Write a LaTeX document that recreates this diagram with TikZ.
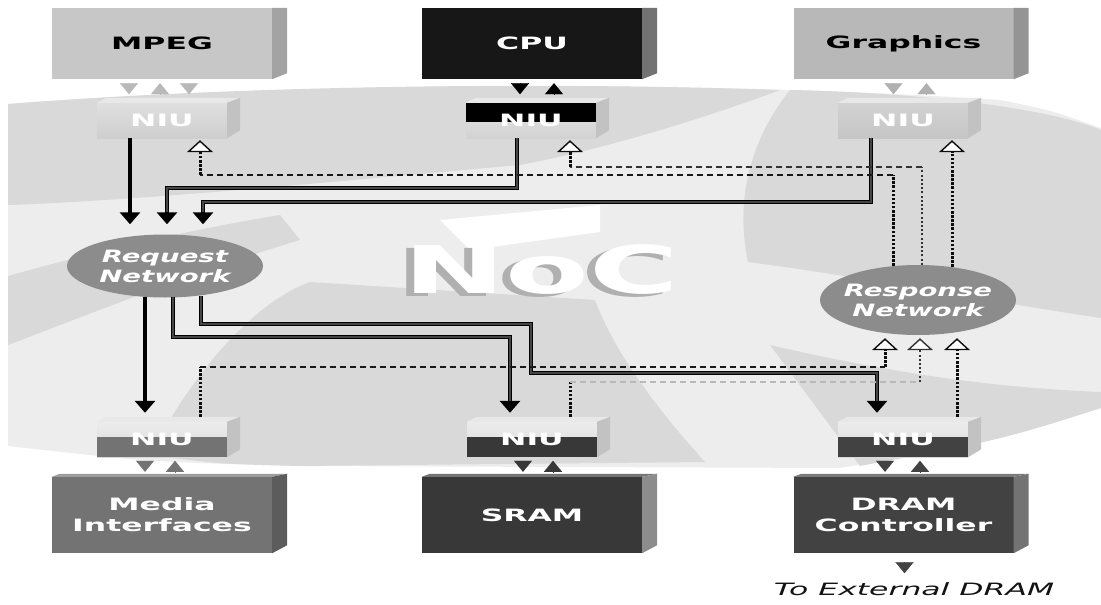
\documentclass[tikz,border=0pt]{standalone}
\usepackage{fontspec}
\newfontfamily\wfont[FakeStretch=1.85]{DejaVu Sans}
\newfontfamily\nfont[FakeStretch=1.62]{DejaVu Sans}
\usetikzlibrary{arrows.meta,calc,shapes.geometric}
\definecolor{bgA}{gray}{0.93}
\definecolor{bgB}{gray}{0.85}
\definecolor{mpegc}{gray}{0.78}
\definecolor{mpegs}{gray}{0.64}
\definecolor{cpuc}{gray}{0.09}
\definecolor{cpus}{gray}{0.45}
\definecolor{grc}{gray}{0.72}
\definecolor{grs}{gray}{0.58}
\definecolor{medc}{gray}{0.45}
\definecolor{meds}{gray}{0.36}
\definecolor{sramc}{gray}{0.22}
\definecolor{srams}{gray}{0.55}
\definecolor{dramc}{gray}{0.26}
\definecolor{drams}{gray}{0.45}
\definecolor{netc}{gray}{0.55}
\begin{document}
\begin{tikzpicture}[x=1pt,y=-1pt,
  box/.style={rectangle, minimum width=220pt, inner sep=0pt, align=center,
    font=\wfont\bfseries\fontsize{17}{21}\selectfont},
  niu/.style={rectangle, minimum width=130pt, minimum height=35pt, inner sep=0pt,
    text=white, font=\wfont\bfseries\fontsize{17}{21}\selectfont},
  net/.style={ellipse, minimum width=196pt, inner xsep=-30pt, inner ysep=-8pt,
    fill=netc, text=white, align=center, font=\nfont\bfseries\itshape\fontsize{17}{20}\selectfont},
  reqA/.style={line width=4.5pt, draw=black, -{Triangle[width=20pt,length=12pt]}},
  reqB/.style={line width=4.2pt, draw=black, -{Triangle[width=20pt,length=12pt]},
    postaction={draw=gray!55!black, line width=1.8pt, -, shorten >=12pt}},
  vdot/.style={line width=3pt, draw=gray!10!black, dash pattern=on 2.5pt off 1.6pt},
  vdotl/.style={line width=2.6pt, draw=gray!40!black, dash pattern=on 2pt off 2.2pt},
  hdash/.style={line width=1.8pt, draw=gray!20!black, dash pattern=on 6pt off 4pt},
  hdashl/.style={line width=1.6pt, draw=gray!55, dash pattern=on 6pt off 4pt},
  rtip/.style={-{Triangle[width=26pt,length=12pt,fill=white,line width=1.4pt]}},
  tri/.style={line width=0.1pt, -{Triangle[width=18pt,length=11pt]}},
]
\useasboundingbox (0,0) rectangle (1101,605);
\fill[white] (0,0) rectangle (1101,605);
% background swirl
\fill[bgA] (8,104) .. controls (300,82) and (700,80) .. (1000,100)
  .. controls (1050,110) .. (1101,128) -- (1101,408)
  .. controls (1000,440) .. (840,468) -- (300,466)
  .. controls (150,462) .. (8,446) -- cycle;
\fill[bgB] (8,104) .. controls (250,85) and (550,82) .. (780,90)
  .. controls (700,120) and (600,150) .. (520,165)
  .. controls (350,180) and (150,200) .. (8,205) -- cycle;
\fill[bgB] (790,90) .. controls (900,92) and (1040,105) .. (1101,130)
  -- (1101,318) .. controls (980,300) and (850,275) .. (748,262)
  .. controls (735,200) and (750,140) .. (790,90) -- cycle;
\fill[bgB] (8,276) .. controls (100,250) and (200,228) .. (280,215)
  -- (300,240) .. controls (200,270) and (100,310) .. (8,345) -- cycle;
\fill[bgB] (150,455) .. controls (200,360) and (260,300) .. (310,282)
  -- (595,300) .. controls (610,340) and (640,390) .. (705,462)
  -- (300,466) .. controls (220,464) .. (150,455) -- cycle;
\fill[bgB] (770,345) .. controls (900,375) and (1000,388) .. (1101,392)
  -- (1101,408) .. controls (1000,440) .. (860,466) -- cycle;
\fill[white] (440,220) -- (600,205) -- (600,232) -- (470,250) -- cycle;

% NoC
\node[font=\wfont\bfseries\fontsize{66}{70}\selectfont, text=gray!62] (nocs) at (533,272) {NoC};
\node[font=\wfont\bfseries\fontsize{66}{70}\selectfont, text=white] (noc) at (541,269) {NoC};

% top boxes
\node[box, minimum height=71pt, fill=mpegc] (mpeg) at (162,43.5) {MPEG};
\node[box, minimum height=71pt, fill=cpuc, text=white] (cpu) at (532,43.5) {CPU};
\node[box, minimum height=71pt, fill=grc] (gr) at (903.5,43.5) {Graphics};
\foreach \n/\c in {mpeg/mpegs, cpu/cpus, gr/grs}{
  \fill[\c] (\n.north east) -- ++(15,0) -- ($(\n.south east)+(15,-6)$) -- (\n.south east) -- cycle;
}
% bottom boxes
\node[box, minimum height=76pt, fill=medc, text=white] (media) at (162,515) {Media\\Interfaces};
\node[box, minimum height=76pt, fill=sramc, text=white] (sram) at (532,515) {SRAM};
\node[box, minimum height=76pt, fill=dramc, text=white] (dram) at (903.5,515) {DRAM\\Controller};
\foreach \n/\c/\t in {media/meds/medc, sram/srams/sramc, dram/drams/dramc}{
  \fill[\t!70!white] (\n.north west) -- ++(8,-3) -- ($(\n.north east)+(15,-3)$) -- (\n.north east) -- cycle;
  \fill[\c] (\n.north east) -- ++(15,-3) -- ($(\n.south east)+(15,-8)$) -- (\n.south east) -- cycle;
}

% NIUs
\node[niu, top color=gray!25, bottom color=gray!38] (mpegniu) at (162,120.5) {NIU};
\node[niu, top color=gray!20, bottom color=gray!35,
  path picture={\fill[black] (path picture bounding box.north west) rectangle ($(path picture bounding box.east)+(0,1.5)$);}] (cpuniu) at (531,120.5) {NIU};
\node[niu, top color=gray!35, bottom color=gray!45] (grniu) at (903,120.5) {NIU};
\node[niu, top color=gray!15, bottom color=gray!30,
  path picture={\fill[medc] ($(path picture bounding box.west)+(0,-3)$) rectangle (path picture bounding box.south east);}] (mediniu) at (162,439.5) {NIU};
\node[niu, top color=gray!15, bottom color=gray!30,
  path picture={\fill[sramc] ($(path picture bounding box.west)+(0,-3)$) rectangle (path picture bounding box.south east);}] (sramniu) at (532,439.5) {NIU};
\node[niu, top color=gray!15, bottom color=gray!30,
  path picture={\fill[dramc] ($(path picture bounding box.west)+(0,-3)$) rectangle (path picture bounding box.south east);}] (dramniu) at (903,439.5) {NIU};
\foreach \n in {mpegniu, cpuniu, grniu, mediniu, sramniu, dramniu}{
  \fill[gray!18] (\n.north west) -- ++(10,-5) -- ($(\n.north east)+(13,-5)$) -- (\n.north east) -- cycle;
  \fill[gray!48] (\n.north east) -- ++(13,-5) -- ($(\n.south east)+(13,-8)$) -- (\n.south east) -- cycle;
}

% networks
\node[net, minimum height=63pt] (req) at (165,266) {Request\\Network};
\node[net, minimum height=70pt] (resp) at (918,300) {Response\\Network};

% small interface triangles
\draw[tri, color=gray!55] ($(mpeg.south)+(-33,4)$) -- ++(0,11);
\draw[tri, color=gray!55] ($(mpeg.south)+(-2,15)$) -- ++(0,-11);
\draw[tri, color=gray!55] ($(mpeg.south)+(27,4)$) -- ++(0,11);
\draw[tri, color=black] ($(cpu.south)+(-12,4)$) -- ++(0,11);
\draw[tri, color=black] ($(cpu.south)+(22,15)$) -- ++(0,-11);
\draw[tri, color=gray!62] ($(gr.south)+(-10,4)$) -- ++(0,11);
\draw[tri, color=gray!62] ($(gr.south)+(23,15)$) -- ++(0,-11);
\draw[tri, color=medc] ($(media.north)+(-17,-16)$) -- ++(0,11);
\draw[tri, color=medc] ($(media.north)+(13,-5)$) -- ++(0,-11);
\draw[tri, color=sramc] ($(sram.north)+(-9,-16)$) -- ++(0,11);
\draw[tri, color=sramc] ($(sram.north)+(21,-5)$) -- ++(0,-11);
\draw[tri, color=dramc] ($(dram.north)+(-18.5,-16)$) -- ++(0,11);
\draw[tri, color=dramc] ($(dram.north)+(16.5,-5)$) -- ++(0,-11);
\node[font=\wfont\itshape\fontsize{17}{20}\selectfont, text=gray!15!black] (ext) at (914,589) {To External DRAM};
\draw[tri, color=dramc] ($(dram.south)+(1,9)$) -- ++(0,11);

% request connectors
\draw[reqA] ($(mpegniu.south)+(-32,0)$) -- ($(req.north)+(-35,-10)$);
\draw[reqB] ($(cpuniu.south)+(-14,0)$) -- ++(0,50) -| ($(req.north)+(2,-10)$);
\draw[reqB] ($(grniu.south)+(-32,0)$) -- ++(0,64) -| ($(req.north)+(38,-10)$);
\draw[reqA] ($(req.south)+(-20,-1)$) -- ($(mediniu.north)+(-17,-9)$);
\draw[reqB] ($(req.south)+(8,-1)$) -- ++(0,40.5) -| ($(sramniu.north)+(-22,-9)$);
\draw[reqB] ($(req.south)+(36,-2)$) -- ++(0,28.5) -- ++(330,0) -- ++(0,49) -| ($(dramniu.north)+(-26,-9)$);

% response connectors (to initiators)
\coordinate (mpegin) at ($(mpegniu.south)+(38,2)$);
\coordinate (cpuin) at ($(cpuniu.south)+(39,2)$);
\draw[vdot] ($(resp.north)+(-25,1)$) -- ++(0,-91) coordinate (r1b);
\draw[hdash] (r1b) -- (r1b -| mpegin) coordinate (r1c);
\draw[vdot, rtip] (r1c) -- (mpegin);
\draw[vdotl] ($(resp.north)+(4,0)$) -- ++(0,-98) coordinate (r2b);
\draw[hdash, draw=gray!40!black] (r2b) -- (r2b -| cpuin) coordinate (r2c);
\draw[vdot, rtip] (r2c) -- (cpuin);
\draw[vdot, rtip] ($(resp.north)+(34,2)$) -- ($(grniu.south)+(49,2)$);

% response connectors (from targets)
\draw[vdot] ($(mediniu.north)+(38,-5)$) -- ++(0,-50) coordinate (r4b);
\coordinate (r4e) at ($(resp.south)+(-33,3)$);
\draw[hdash] (r4b) -- (r4b -| r4e) coordinate (r4c);
\draw[vdot, rtip] (r4c) -- (r4e);
\draw[vdot] ($(sramniu.north)+(38,-5)$) -- ++(0,-35) coordinate (r5b);
\coordinate (r5e) at ($(resp.south)+(2,3)$);
\draw[hdashl] (r5b) -- (r5b -| r5e) coordinate (r5c);
\draw[vdotl, rtip] (r5c) -- (r5e);
\draw[vdot, rtip] ($(dramniu.north)+(54,-5)$) -- ($(resp.south)+(39,3)$);
\end{tikzpicture}
\end{document}
